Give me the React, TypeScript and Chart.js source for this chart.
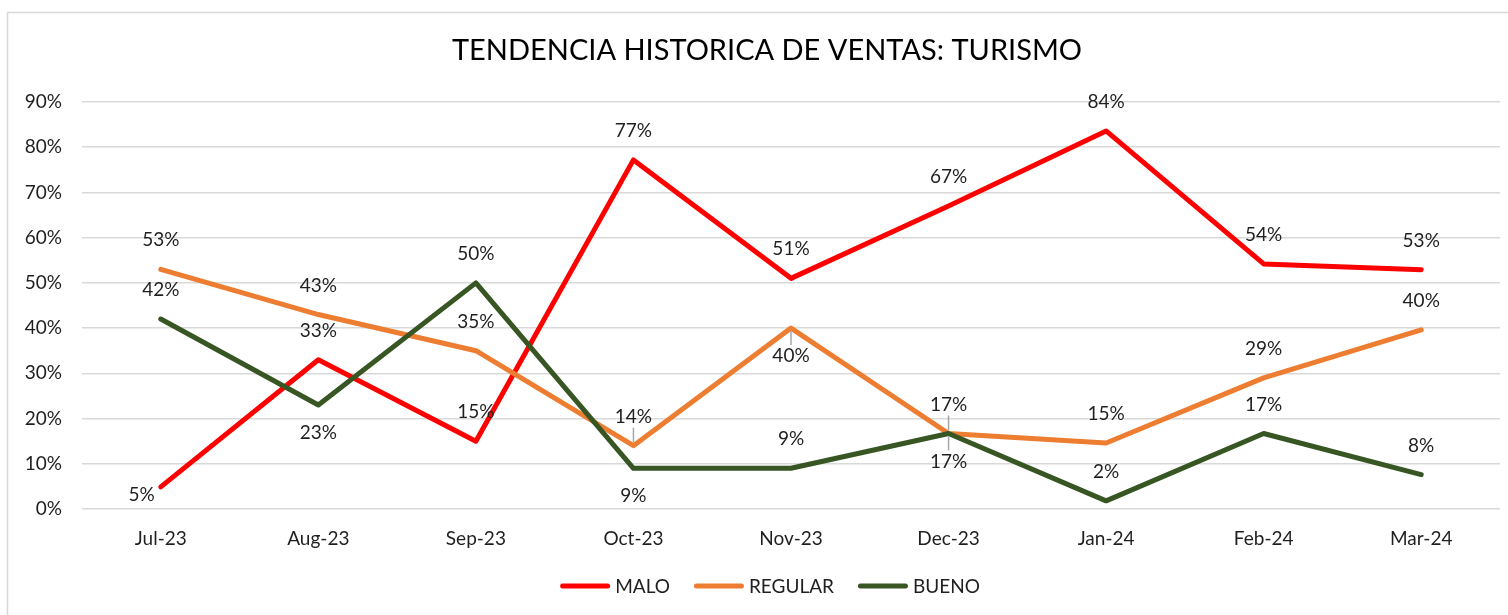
import React, { useEffect, useRef } from "react";
import { Chart, registerables } from "chart.js";

Chart.register(...registerables);

const TITLE = "TENDENCIA HISTORICA DE VENTAS: TURISMO";
const categories = ["Jul-23", "Aug-23", "Sep-23", "Oct-23", "Nov-23", "Dec-23", "Jan-24", "Feb-24", "Mar-24"];
const yTicks = [0, 10, 20, 30, 40, 50, 60, 70, 80, 90];

const malo = [4.9, 33, 15, 77.2, 51, 67, 83.6, 54.2, 52.9];
const regular = [53, 43, 35, 14, 40, 16.7, 14.6, 29, 39.6];
const bueno = [42, 23, 50, 9, 9, 16.7, 1.8, 16.7, 7.6];

// label placement: a = above, b = below, l = left
const maloPos = ["l", "a", "a", "a", "a", "a", "a", "a", "a"];
const regularPos = ["a", "a", "a", "a", "b", "a", "a", "a", "a"];
const buenoPos = ["a", "b", "a", "b", "a", "b", "a", "a", "a"];
const regularLeader = [0, 0, 0, 1, 1, 1, 0, 0, 0];
const buenoLeader = [0, 0, 0, 0, 0, 1, 0, 0, 0];

const FONT = "Lato, 'Open Sans', sans-serif";
const TEXT = "#1f1f1f";
const FS = 19;

const series = [
  { label: "MALO", data: malo, color: "#FF0000", pos: maloPos, leader: malo.map(() => 0), order: 3 },
  { label: "REGULAR", data: regular, color: "#ED7D31", pos: regularPos, leader: regularLeader, order: 2 },
  { label: "BUENO", data: bueno, color: "#375623", pos: buenoPos, leader: buenoLeader, order: 1 },
];

const framePlugin = {
  id: "frame",
  beforeDraw(chart: any) {
    const ctx = chart.ctx;
    ctx.save();
    ctx.fillStyle = "#ffffff";
    ctx.fillRect(0, 0, chart.width, chart.height);
    ctx.strokeStyle = "#d9d9d9";
    ctx.lineWidth = 1.5;
    ctx.strokeRect(7.5, 12.5, 1600, 700);
    ctx.restore();
  },
  afterDraw(chart: any) {
    const ctx = chart.ctx;
    ctx.save();
    // title
    ctx.fillStyle = "#000000";
    ctx.font = `29px ${FONT}`;
    ctx.textAlign = "center";
    ctx.textBaseline = "middle";
    ctx.fillText(TITLE, 767, 51);

    // legend
    ctx.font = `${FS}px ${FONT}`;
    ctx.textAlign = "left";
    const sw = 50;
    const gapText = 5;
    const gapItem = 24;
    const widths = chart.data.datasets.map((d: any) => sw + gapText + ctx.measureText(d.label).width);
    const total = widths.reduce((a: number, b: number) => a + b, 0) + gapItem * (widths.length - 1);
    let x = 770 - total / 2;
    const ly = 586;
    chart.data.datasets.forEach((d: any, i: number) => {
      ctx.strokeStyle = d.borderColor;
      ctx.lineWidth = 5;
      ctx.lineCap = "round";
      ctx.beginPath();
      ctx.moveTo(x + 2.5, ly);
      ctx.lineTo(x + sw - 2.5, ly);
      ctx.stroke();
      ctx.fillStyle = TEXT;
      ctx.fillText(d.label, x + sw + gapText, ly + 1);
      x += widths[i] + gapItem;
    });
    ctx.restore();
  },
};

const labelPlugin = {
  id: "pointLabels",
  afterDatasetsDraw(chart: any) {
    const ctx = chart.ctx;
    ctx.save();
    ctx.font = `${FS}px ${FONT}`;
    ctx.textBaseline = "middle";
    chart.data.datasets.forEach((d: any, di: number) => {
      const s = series[di];
      const meta = chart.getDatasetMeta(di);
      meta.data.forEach((pt: any, i: number) => {
        const txt = Math.round(d.data[i]) + "%";
        const p = s.pos[i];
        let tx = pt.x;
        let ty = pt.y;
        ctx.textAlign = "center";
        if (p === "a") ty = pt.y - 29;
        else if (p === "b") ty = pt.y + 28;
        else {
          ctx.textAlign = "right";
          tx = pt.x - 6;
          ty = pt.y + 8;
        }
        if (s.leader[i]) {
          ctx.strokeStyle = "#a6a6a6";
          ctx.lineWidth = 1.5;
          ctx.beginPath();
          if (p === "a") {
            ctx.moveTo(pt.x, ty + 11);
            ctx.lineTo(pt.x, pt.y - 3);
          } else {
            ctx.moveTo(pt.x, pt.y + 3);
            ctx.lineTo(pt.x, ty - 11);
          }
          ctx.stroke();
        }
        ctx.fillStyle = TEXT;
        ctx.fillText(txt, tx, ty);
      });
    });
    ctx.restore();
  },
};

export default function App() {
  const ref = useRef<HTMLCanvasElement | null>(null);
  useEffect(() => {
    document.body.style.margin = "0";
    const canvas = ref.current;
    if (!canvas) return;
    const chart = new Chart(canvas, {
      type: "line",
      data: {
        labels: categories,
        datasets: series.map((s) => ({
          label: s.label,
          data: s.data,
          borderColor: s.color,
          backgroundColor: s.color,
          borderWidth: 5,
          pointRadius: 0,
          pointHoverRadius: 0,
          tension: 0,
          fill: false,
          borderJoinStyle: "round" as const,
          borderCapStyle: "round" as const,
          order: s.order,
        })),
      },
      options: {
        animation: false,
        responsive: false,
        maintainAspectRatio: false,
        events: [],
        layout: { padding: { top: 102, right: 8, left: 0, bottom: 46 } },
        plugins: {
          legend: { display: false },
          title: { display: false },
          tooltip: { enabled: false },
        },
        scales: {
          x: {
            offset: true,
            grid: { display: false },
            border: { display: false },
            ticks: { color: TEXT, font: { family: FONT, size: FS }, padding: 10, maxRotation: 0 },
            afterFit: (scale: any) => {
              scale.height = 60;
            },
          },
          y: {
            min: 0,
            max: 90,
            afterBuildTicks: (scale: any) => {
              scale.ticks = yTicks.map((v) => ({ value: v }));
            },
            grid: { color: "#d9d9d9", lineWidth: 1.5, drawTicks: false },
            border: { display: false },
            ticks: {
              color: TEXT,
              font: { family: FONT, size: FS },
              padding: 20,
              callback: (v: any) => v + "%",
            },
            afterFit: (scale: any) => {
              scale.width = 82;
            },
          },
        },
      },
      plugins: [framePlugin, labelPlugin],
    });
    return () => chart.destroy();
  }, []);
  return (
    <div style={{ position: "absolute", left: 0, top: 0, width: 1508, height: 615 }}>
      <canvas ref={ref} width={1508} height={615} style={{ width: 1508, height: 615, display: "block" }} />
    </div>
  );
}
